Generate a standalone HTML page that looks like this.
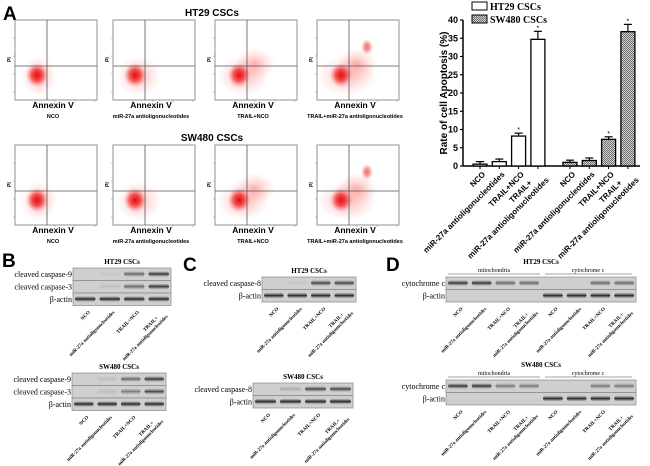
<!DOCTYPE html>
<html><head><meta charset="utf-8">
<style>
body{margin:0;background:#fff;}
svg{display:block;font-family:"Liberation Sans",sans-serif;}
.serif{font-family:"Liberation Serif",serif;}
</style></head>
<body>
<svg id="fig" width="650" height="466" viewBox="0 0 650 466" xmlns="http://www.w3.org/2000/svg">
<defs>
 <pattern id="chk" width="2" height="2" patternUnits="userSpaceOnUse">
  <rect width="2" height="2" fill="#d0d0d0"/><rect width="1" height="1" fill="#707070"/><rect x="1" y="1" width="1" height="1" fill="#707070"/>
 </pattern>
 <radialGradient id="cloud"><stop offset="0" stop-color="#e00000" stop-opacity="0.95"/><stop offset="0.5" stop-color="#ee2020" stop-opacity="0.7"/><stop offset="1" stop-color="#ff6060" stop-opacity="0"/></radialGradient>
 <radialGradient id="haze"><stop offset="0" stop-color="#ff4040" stop-opacity="0.4"/><stop offset="1" stop-color="#ff8080" stop-opacity="0"/></radialGradient>
 <linearGradient id="band" x1="0" y1="0" x2="0" y2="1"><stop offset="0" stop-color="#555" stop-opacity="0"/><stop offset="0.5" stop-color="#222"/><stop offset="1" stop-color="#555" stop-opacity="0"/></linearGradient>
</defs>
<text x="3" y="20" font-size="19" font-weight="bold">A</text>
<text x="212" y="16" font-size="10" font-weight="bold" text-anchor="middle">HT29 CSCs</text>
<text x="212" y="141" font-size="10" font-weight="bold" text-anchor="middle">SW480 CSCs</text>
<g id="flow"></g>
<g id="bars"></g>
<g id="blots"></g>
<text x="2" y="267" font-size="19" font-weight="bold">B</text>
<text x="183" y="271" font-size="19" font-weight="bold">C</text>
<text x="386" y="271" font-size="19" font-weight="bold">D</text>
</svg>
<script>
// ---- Bar chart data ----
const categories = ["NCO","miR-27a antioligonucleotides","TRAIL+NCO","TRAIL+|miR-27a antioligonucleotides"];
const ht29Values = [0.5, 1.2, 8.2, 34.7];
const ht29Errors = [0.7, 0.7, 0.8, 2.2];
const sw480Values = [1.0, 1.5, 7.3, 36.8];
const sw480Errors = [0.6, 0.7, 0.7, 2.0];
const yTicks = [0,5,10,15,20,25,30,35,40];
const sigFlags = [false,false,true,true];

const NS="http://www.w3.org/2000/svg";
function mk(tag,attrs,parent,txt){const e=document.createElementNS(NS,tag);for(const k in attrs)e.setAttribute(k,attrs[k]);if(txt!==undefined)e.textContent=txt;parent.appendChild(e);return e;}

const y0=166,y1=20,yMax=40;
function yS(v){return y0-(v/yMax)*(y0-y1);}
function xS(group,i){return (group===0?480:570)+i*19.3;}
const bars=document.getElementById('bars');
let ax=mk('line',{x1:463,y1:y1,x2:463,y2:y0,stroke:'#000','stroke-width':1.5},bars);


let xa=mk('line',{x1:463,y1:y0,x2:640,y2:y0,stroke:'#000','stroke-width':1.5},bars);


yTicks.forEach(t=>{
 const y=yS(t);
 mk('line',{x1:460,y1:y,x2:463,y2:y,stroke:'#000','stroke-width':1.2},bars);
 const tl=mk('text',{x:458,y:y+3,'font-size':9,'font-weight':'bold','text-anchor':'end'},bars,String(t));
 
 
});
const yt=mk('text',{x:0,y:0,'font-size':10,'font-weight':'bold','text-anchor':'middle',transform:'translate(447,93) rotate(-90)'},bars,'Rate of cell Apoptosis  (%)');


[[ht29Values,ht29Errors,'#fff'],[sw480Values,sw480Errors,'url(#chk)']].forEach((s,g)=>{
 s[0].forEach((v,i)=>{
  const cx=xS(g,i),w=14;
  const r=mk('rect',{x:cx-w/2,y:yS(v),width:w,height:y0-yS(v),fill:s[2],stroke:'#000','stroke-width':1.3},bars);
  
  
  const et=yS(v+s[1][i]);
  mk('line',{x1:cx,y1:yS(v),x2:cx,y2:et,stroke:'#000','stroke-width':1.2},bars);
  mk('line',{x1:cx-4,y1:et,x2:cx+4,y2:et,stroke:'#000','stroke-width':1.2},bars);
  if(sigFlags[i]){const st=mk('text',{x:cx,y:et-1,'font-size':7,'text-anchor':'middle'},bars,'*');
   
   }
  mk('line',{x1:cx,y1:y0,x2:cx,y2:y0+3,stroke:'#000'},bars);
  const lines=categories[i].split('|');
  const tx=mk('text',{x:0,y:0,'font-size':8,'font-weight':'bold','text-anchor':'end',transform:`translate(${cx+3},${y0+6}) rotate(-45)`},bars);
  
  
  lines.forEach((l,k)=>{mk('tspan',{x:lines.length>1&&k===0?-14:0,dy:k===0?(lines.length>1?2:4):10},tx,l);});
 });
});
[['HT29 CSCs','#fff',2],['SW480 CSCs','url(#chk)',15]].forEach((l,k)=>{
 const r=mk('rect',{x:472,y:l[2],width:15,height:8,fill:l[1],stroke:'#000'},bars);
 
 
 const t=mk('text',{x:490,y:l[2]+8,'font-size':10,'font-weight':'bold','class':'serif'},bars,l[0]);
 
 
});

// ---- Flow plots ----
const flow=document.getElementById('flow');
const conds=["NCO","miR-27a antioligonucleotides","TRAIL+NCO","TRAIL+miR-27a antioligonucleotides"];
const xs=[15,113,215,317];
[20,145].forEach((top,row)=>{
 xs.forEach((x,i)=>{
  const g=mk('g',{},flow);
  
  
  const w=82,h=80;
  mk('rect',{x:x,y:top,width:w,height:h,fill:'#fff',stroke:'#777','stroke-width':0.8},g);
  mk('ellipse',{cx:x+24+i*2,cy:top+56,rx:18+i*4,ry:20,fill:'url(#haze)'},g);
  if(i>=2) mk('ellipse',{cx:x+40,cy:top+44,rx:20,ry:16,fill:'url(#haze)'},g);
  mk('ellipse',{cx:x+22+(i>1?2:0),cy:top+55,rx:11,ry:12,fill:'url(#cloud)'},g);
  if(i===3) mk('ellipse',{cx:x+50,cy:top+27,rx:6,ry:8,fill:'url(#cloud)',opacity:0.6},g);
  mk('line',{x1:x+32,y1:top,x2:x+32,y2:top+h,stroke:'#555','stroke-width':0.8},g);
  mk('line',{x1:x,y1:top+46,x2:x+w,y2:top+46,stroke:'#555','stroke-width':0.8},g);
  mk('text',{x:0,y:0,'font-size':5,'font-weight':'bold',transform:`translate(${x-4},${top+42}) rotate(-90)`},g,'PI');
  for(let k=1;k<5;k++){mk('line',{x1:x-2,y1:top+k*18,x2:x,y2:top+k*18,stroke:'#888','stroke-width':0.5},g);
   mk('line',{x1:x+k*20,y1:top+h,x2:x+k*20,y2:top+h+2,stroke:'#888','stroke-width':0.5},g);}
  mk('text',{x:x+38,y:top+h+8,'font-size':8.5,'font-weight':'bold','text-anchor':'middle'},g,'Annexin V');
  mk('text',{x:x+38,y:top+h+18,'font-size':5.5,'font-weight':'bold','text-anchor':'middle'},g,conds[i]);
 });
});

// ---- Western blots ----
const blots=document.getElementById('blots');
const lab4=["NCO","miR-27a antioligonucleotides","TRAIL+NCO","TRAIL+|miR-27a antioligonucleotides"];
function blot(name,x,y,w,title,rows,intens,ticks,titleDy){
 const g=mk('g',{},blots);
 
 
 mk('text',{x:x+w/2,y:y-4-(titleDy||0),'font-size':7,'font-weight':'bold','text-anchor':'middle','class':'serif'},g,title);
 const n=intens[0].length, lw=w/n;
 rows.forEach((r,k)=>{
  const ry=y+k*12.5;
  mk('rect',{x:x,y:ry,width:w,height:12.5,fill:'#cfcfcf',stroke:'#888','stroke-width':0.7},g);
  mk('text',{x:x-1,y:ry+9,'font-size':8,'text-anchor':'end','class':'serif'},g,r);
  intens[k].forEach((v,j)=>{ if(v>0) mk('rect',{x:x+j*lw+2,y:ry+3,width:lw-4,height:6,rx:3,fill:'url(#band)',opacity:v},g);});
 });
 const by=y+rows.length*12.5;
 for(let j=0;j<n;j++){
  const l=ticks[j%4].split('|');
  const t=mk('text',{x:0,y:0,'font-size':5,'font-weight':'bold','text-anchor':'end','class':'serif',transform:`translate(${x+j*lw+lw/2+3},${by+5}) rotate(-45)`},g);
  l.forEach((s,k)=>mk('tspan',{x:l.length>1&&k===0?-8:0,dy:k===0?3:6},t,s));
 }
 return g;
}
blot('blot-b-ht29',73,268,98,'HT29  CSCs',['cleaved caspase-9','cleaved caspase-3','β-actin'],[[0,0.05,0.6,0.9],[0,0.1,0.6,0.9],[1,1,1,1]],lab4);
blot('blot-b-sw480',72,373,94,'SW480 CSCs',['cleaved caspase-9','cleaved caspase-3','β-actin'],[[0,0.1,0.6,0.9],[0,0.1,0.5,0.8],[1,1,1,1]],lab4);
blot('blot-c-ht29',262,277,94,'HT29  CSCs',['cleaved caspase-8','β-actin'],[[0,0.05,0.8,0.8],[1,1,1,1]],lab4);
blot('blot-c-sw480',253,383,100,'SW480 CSCs',['cleaved caspase-8','β-actin'],[[0,0.2,0.8,0.8],[1,1,1,1]],lab4);
const dl=lab4.concat(lab4);
const dh=blot('blot-d-ht29',446,277,190,'HT29  CSCs',['cytochrome c','β-actin'],[[0.9,0.9,0.6,0.6,0,0,0.6,0.6],[0,0,0,0,1,1,1,1]],dl,9);
const ds=blot('blot-d-sw480',446,380,190,'SW480 CSCs',['cytochrome c','β-actin'],[[0.9,0.9,0.5,0.5,0,0,0.5,0.5],[0,0,0,0,1,1,1,1]],dl,9);
[[dh,277],[ds,380]].forEach(([g,y])=>{
 mk('line',{x1:448,y1:y-3,x2:540,y2:y-3,stroke:'#444','stroke-width':0.6},g);
 mk('line',{x1:545,y1:y-3,x2:632,y2:y-3,stroke:'#444','stroke-width':0.6},g);
 mk('text',{x:494,y:y-5,'font-size':6,'text-anchor':'middle','class':'serif'},g,'mitochondria');
 mk('text',{x:588,y:y-5,'font-size':6,'text-anchor':'middle','class':'serif'},g,'cytochrome c');
});
</script>
</body></html>
